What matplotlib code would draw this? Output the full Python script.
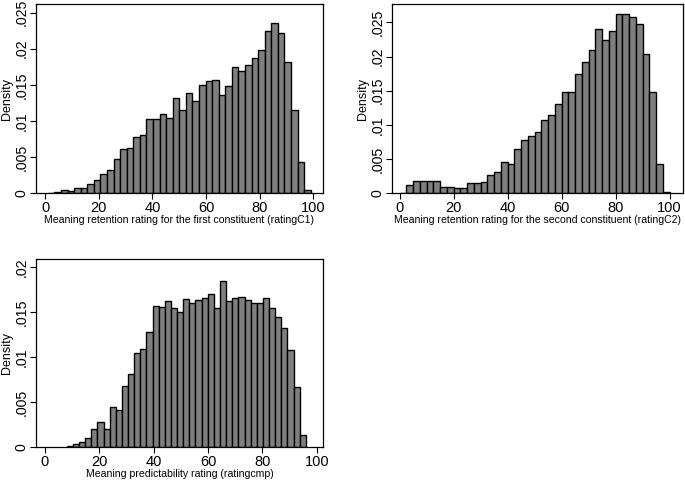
import numpy as np
import matplotlib
matplotlib.use("Agg")
import matplotlib.pyplot as plt

plt.rcParams['font.family'] = ['Liberation Sans', 'DejaVu Sans']

# density per bin
c1_density = [0, 0.0001, 0.0004, 0.0003, 0.0007, 0.0007, 0.0013, 0.0018, 0.0026, 0.0032,
              0.0047, 0.0061, 0.0063, 0.0078, 0.0081, 0.0102, 0.0102, 0.0109, 0.0104, 0.0132,
              0.0115, 0.0139, 0.0127, 0.0150, 0.0155, 0.0156, 0.0136, 0.0148, 0.0175, 0.0169,
              0.0178, 0.0187, 0.0198, 0.0225, 0.0236, 0.0222, 0.0182, 0.0115, 0.0043, 0.0004]
c1_range = (1, 99)

c2_density = [0, 0.0011, 0.0018, 0.0017, 0.0018, 0.0017, 0.0009, 0.0009, 0.0007, 0.0007,
              0.0015, 0.0015, 0.0016, 0.0026, 0.0031, 0.0045, 0.0043, 0.0064, 0.0077, 0.0083,
              0.0089, 0.0107, 0.0115, 0.0131, 0.0148, 0.0148, 0.0174, 0.0192, 0.0209, 0.0240,
              0.0224, 0.0237, 0.0263, 0.0263, 0.0258, 0.0247, 0.0204, 0.0148, 0.0043, 0.0001]
c2_range = (0, 100)

cmp_density = [0.0001, 0.0003, 0.0006, 0.0010, 0.0020, 0.0028, 0.0020, 0.0045, 0.0041, 0.0068,
               0.0081, 0.0104, 0.0109, 0.0128, 0.0157, 0.0156, 0.0162, 0.0155, 0.0150, 0.0165,
               0.0160, 0.0163, 0.0166, 0.0170, 0.0154, 0.0185, 0.0162, 0.0166, 0.0167, 0.0163,
               0.0160, 0.0160, 0.0166, 0.0154, 0.0145, 0.0132, 0.0108, 0.0067, 0.0013]
cmp_range = (8, 96)

xticks = [0, 20, 40, 60, 80, 100]
yticks_a = [0, 0.005, 0.01, 0.015, 0.02, 0.025]
ylabels_a = ['0', '.005', '.01', '.015', '.02', '.025']
yticks_b = [0, 0.005, 0.01, 0.015, 0.02]
ylabels_b = ['0', '.005', '.01', '.015', '.02']

panels = [
    (c1_density, c1_range, 'Meaning retention rating for the first constituent (ratingC1)',
     yticks_a, ylabels_a, [36, 4, 323, 193], (-3.4, 103.6), 0.0262),
    (c2_density, c2_range, 'Meaning retention rating for the second constituent (ratingC2)',
     yticks_a, ylabels_a, [392, 4, 683, 193], (-2.8, 105.0), 0.0277),
    (cmp_density, cmp_range, 'Meaning predictability rating (ratingcmp)',
     yticks_b, ylabels_b, [36, 259, 323, 447], (-3.3, 102.3), 0.0209),
]

W, H = 685, 482
fig = plt.figure(figsize=(W / 100, H / 100), dpi=100)

for dens, rng, xlab, yt, ylab, box, xl, ytop in panels:
    x0, y0, x1, y1 = box
    ax = fig.add_axes([x0 / W, 1 - y1 / H, (x1 - x0) / W, (y1 - y0) / H])
    edges = np.linspace(rng[0], rng[1], len(dens) + 1)
    ax.bar(edges[:-1], dens, width=np.diff(edges), align='edge',
           color='#7f7f7f', edgecolor='black', linewidth=1.0)
    ax.set_xlim(*xl)
    ax.set_ylim(0, ytop)
    ax.set_xticks(xticks)
    ax.set_xticklabels([str(t) for t in xticks], fontsize=10.5)
    ax.set_yticks(yt)
    ax.set_yticklabels(ylab, fontsize=10.2, rotation=90, va='center')
    ax.tick_params(direction='out', length=4, width=0.8, pad=1.5)
    ax.set_xlabel(xlab, fontsize=7.6, labelpad=0)
    ax.set_ylabel('Density', fontsize=9, labelpad=1)
    for s in ax.spines.values():
        s.set_linewidth(0.9)

fig.savefig('out.png', dpi=100)
